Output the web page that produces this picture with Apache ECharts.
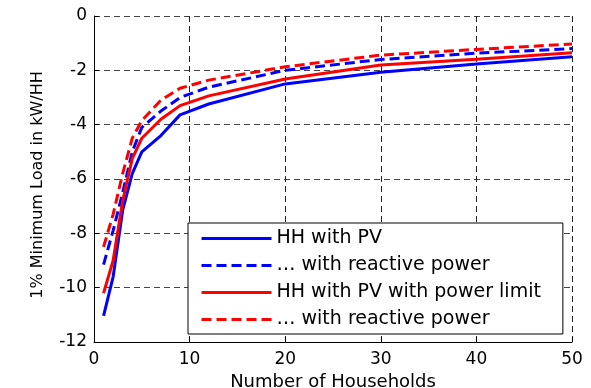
<!DOCTYPE html>
<html>
<head>
<meta charset="utf-8">
<script src="https://cdn.jsdelivr.net/npm/echarts@6/dist/echarts.min.js"></script>
<style>html,body{margin:0;padding:0;background:#fff}#c{width:591px;height:388px}</style>
</head>
<body>
<div id="c"></div>
<script>
var seriesNames = ['HH with PV', '... with reactive power', 'HH with PV with power limit', '... with reactive power '];
var legendLabels = ['HH with PV', '\u2026 with reactive power', 'HH with PV with power limit', '\u2026 with reactive power'];
var households = [1, 2, 3, 4, 5, 7, 9, 12, 20, 30, 40, 50];
var hhPV        = [-11.04, -9.6, -7.15, -5.8, -5.0, -4.4, -3.64, -3.24, -2.5, -2.07, -1.77, -1.5];
var hhPVReact   = [-9.15, -7.9, -6.5, -5.0, -4.1, -3.5, -3.0, -2.62, -2.0, -1.6, -1.37, -1.2];
var hhPVLim     = [-10.2, -9.0, -6.8, -5.25, -4.5, -3.8, -3.3, -2.94, -2.32, -1.8, -1.59, -1.35];
var hhPVLimReact= [-8.5, -7.3, -5.8, -4.5, -3.85, -3.1, -2.66, -2.36, -1.87, -1.44, -1.23, -1.03];
var xTicks = [0, 10, 20, 30, 40, 50];
var yTicks = [-12, -10, -8, -6, -4, -2, 0];

function pairs(xs, ys) { return xs.map(function (x, i) { return [x, ys[i]]; }); }

var FONT = 'DejaVu Sans';
var chart = echarts.init(document.getElementById('c'), null, { renderer: 'canvas' });
var mk = function (name, vals, color, dashed) {
  return {
    name: name, type: 'line', data: pairs(households, vals),
    symbol: 'none', showSymbol: false, smooth: false,
    lineStyle: { color: color, width: 3, type: dashed ? [10, 5] : 'solid' },
    itemStyle: { color: color },
    emphasis: { disabled: true }
  };
};
chart.setOption({
  animation: false,
  backgroundColor: '#fff',
  grid: { left: 94, top: 16, right: 19, bottom: 46, containLabel: false, outerBoundsMode: 'none' },
  xAxis: {
    type: 'value', min: xTicks[0], max: xTicks[xTicks.length - 1], interval: 10,
    name: 'Number of Households', nameLocation: 'middle', nameGap: 31,
    nameTextStyle: { fontFamily: FONT, fontSize: 18, color: '#000' },
    axisLine: { show: true, onZero: false, lineStyle: { color: '#000', width: 1 } },
    axisTick: { show: true, inside: true, length: 5, lineStyle: { color: '#000' } },
    axisLabel: { fontFamily: FONT, fontSize: 17, color: '#000', margin: 9 },
    splitLine: { show: true, lineStyle: { color: '#222', type: [6, 4], width: 1 } }
  },
  yAxis: {
    type: 'value', min: yTicks[0], max: yTicks[yTicks.length - 1], interval: 2,
    name: '1% Minimum Load in kW/HH', nameLocation: 'middle', nameGap: 48,
    nameTextStyle: { fontFamily: FONT, fontSize: 16, color: '#000', padding: [0, 12, 0, 0] },
    axisLine: { show: true, onZero: false, lineStyle: { color: '#000', width: 1 } },
    axisTick: { show: true, inside: true, length: 5, lineStyle: { color: '#000' } },
    axisLabel: { fontFamily: FONT, fontSize: 17, color: '#000', margin: 7 },
    splitLine: { show: true, lineStyle: { color: '#444', type: [6, 4], width: 1 } }
  },
  legend: {
    orient: 'vertical', left: 188, top: 223,
    data: seriesNames,
    formatter: function (n) { return legendLabels[seriesNames.indexOf(n)]; },
    backgroundColor: '#fff', borderColor: '#000', borderWidth: 1,
    padding: [6, 22, 5, 12], itemWidth: 70, itemHeight: 14, itemGap: 8,
    lineStyle: { width: 3 },
    itemStyle: { color: 'rgba(0,0,0,0)', opacity: 0, borderWidth: 0 },
    selectedMode: false,
    textStyle: { fontFamily: FONT, fontSize: 19, lineHeight: 18, color: '#000' }
  },
  series: [
    mk(seriesNames[0], hhPV, '#0000ff', false),
    mk(seriesNames[1], hhPVReact, '#0000ff', true),
    mk(seriesNames[2], hhPVLim, '#ff0000', false),
    mk(seriesNames[3], hhPVLimReact, '#ff0000', true)
  ]
});
</script>
</body>
</html>
